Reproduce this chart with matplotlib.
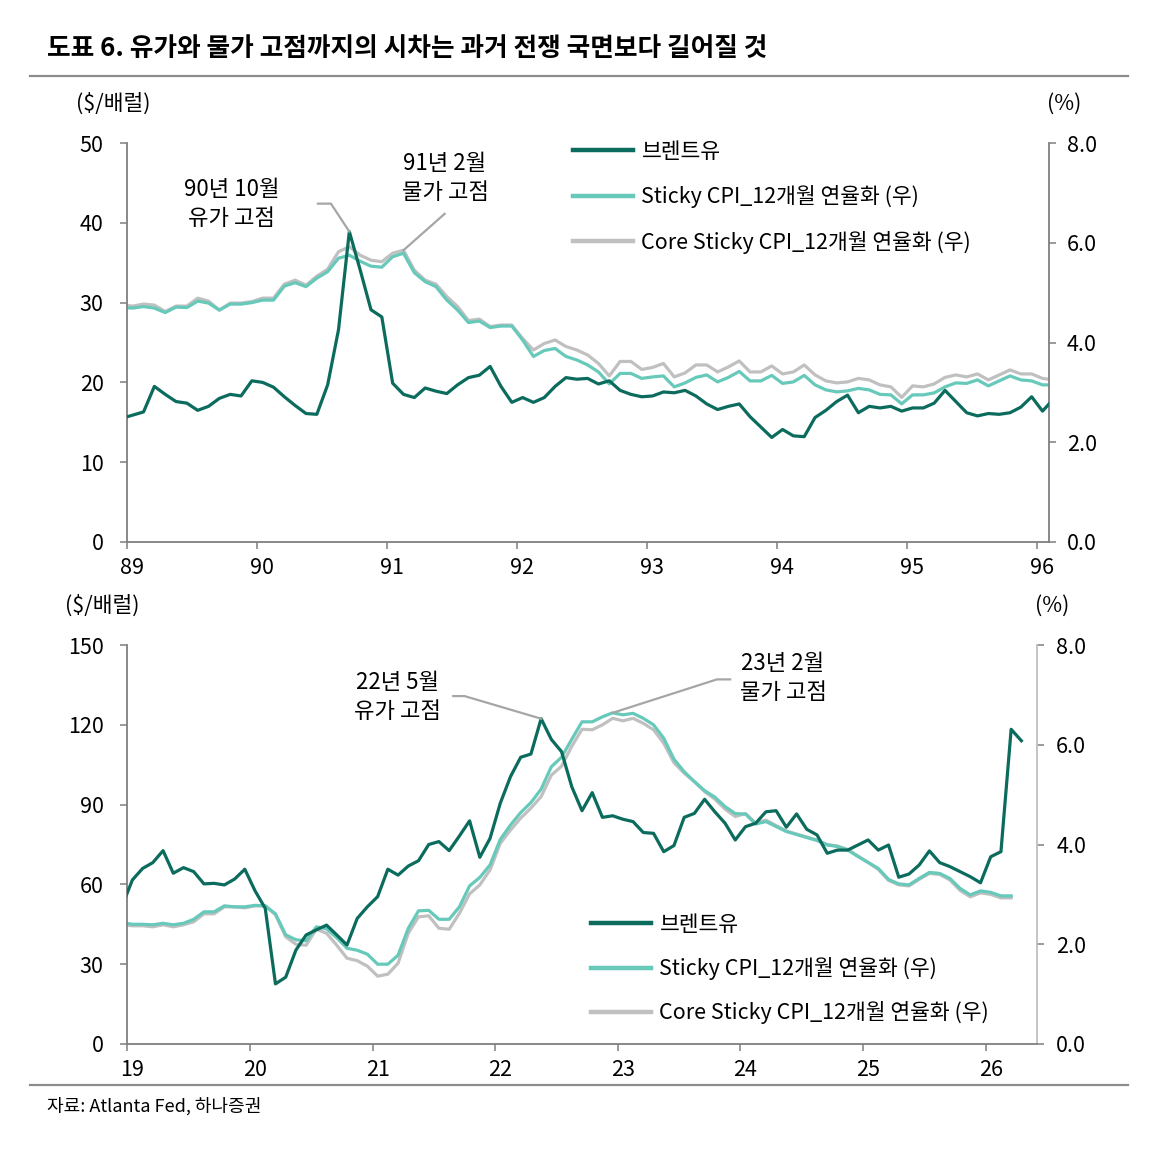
import matplotlib
matplotlib.use('Agg')
import matplotlib.pyplot as plt
import matplotlib.transforms as mtransforms
import numpy as np
import pandas as pd

plt.rcParams['font.family'] = ['Noto Sans CJK KR', 'DejaVu Sans']

# 1989~1996: 월말 기준, 1988-12 ~ 1996-02
months_9x = pd.period_range('1988-12', '1996-02', freq='M')
brent_9x = [15.5, 15.9, 16.3, 19.5, 18.5, 17.6, 17.4, 16.5, 17.0, 18.0, 18.5, 18.3, 20.2,
            20.0, 19.4, 18.2, 17.1, 16.1, 16.0, 19.7, 26.6, 38.9, 34.1, 29.1, 28.2,
            19.9, 18.5, 18.1, 19.3, 18.9, 18.6, 19.7, 20.6, 20.9, 22.0, 19.5, 17.5,
            18.1, 17.5, 18.1, 19.5, 20.6, 20.4, 20.5, 19.8, 20.2, 19.0, 18.5, 18.2,
            18.3, 18.8, 18.7, 19.0, 18.3, 17.3, 16.6, 17.0, 17.3, 15.7, 14.4, 13.1,
            14.1, 13.3, 13.2, 15.6, 16.5, 17.6, 18.4, 16.2, 17.0, 16.8, 17.0, 16.4,
            16.8, 16.8, 17.4, 19.0, 17.6, 16.2, 15.8, 16.1, 16.0, 16.2, 16.9, 18.2,
            16.4, 17.9]
sticky_9x = [4.70, 4.69, 4.72, 4.69, 4.60, 4.71, 4.70, 4.83, 4.79, 4.65, 4.77, 4.77, 4.80,
             4.85, 4.85, 5.13, 5.20, 5.12, 5.29, 5.42, 5.69, 5.75, 5.63, 5.53, 5.51,
             5.72, 5.79, 5.40, 5.22, 5.12, 4.85, 4.65, 4.40, 4.43, 4.30, 4.33, 4.33,
             4.05, 3.72, 3.84, 3.88, 3.72, 3.65, 3.55, 3.41, 3.17, 3.38, 3.38, 3.28,
             3.31, 3.33, 3.11, 3.19, 3.30, 3.35, 3.21, 3.30, 3.42, 3.23, 3.23, 3.34,
             3.18, 3.21, 3.34, 3.15, 3.05, 3.01, 3.03, 3.08, 3.05, 2.96, 2.95, 2.77,
             2.95, 2.95, 2.99, 3.11, 3.19, 3.18, 3.25, 3.13, 3.23, 3.33, 3.25, 3.23,
             3.15, 3.15]
core_9x = [4.75, 4.73, 4.77, 4.75, 4.62, 4.73, 4.73, 4.89, 4.83, 4.65, 4.79, 4.79, 4.82,
           4.89, 4.89, 5.17, 5.25, 5.15, 5.33, 5.47, 5.82, 5.92, 5.75, 5.65, 5.62,
           5.79, 5.85, 5.45, 5.25, 5.17, 4.92, 4.72, 4.44, 4.47, 4.32, 4.35, 4.35,
           4.08, 3.85, 3.98, 4.05, 3.92, 3.85, 3.75, 3.58, 3.33, 3.62, 3.62, 3.46,
           3.50, 3.58, 3.31, 3.39, 3.55, 3.55, 3.41, 3.51, 3.63, 3.41, 3.41, 3.53,
           3.37, 3.41, 3.55, 3.35, 3.23, 3.19, 3.21, 3.28, 3.25, 3.15, 3.11, 2.90,
           3.13, 3.11, 3.17, 3.30, 3.35, 3.31, 3.37, 3.25, 3.35, 3.45, 3.37, 3.37,
           3.28, 3.25]
years_9x = ['89', '90', '91', '92', '93', '94', '95', '96']

# 2019~2026: 2018-12 ~ 2026-04 (CPI는 2026-03까지)
months_2x = pd.period_range('2018-12', '2026-04', freq='M')
brent_2x = [52.0, 61.7, 66.0, 68.2, 72.7, 64.2, 66.3, 64.8, 60.2, 60.4, 59.8, 62.0, 65.7,
            57.6, 51.0, 22.6, 25.1, 35.3, 41.0, 42.9, 44.7, 41.0, 37.2, 47.2, 51.6,
            55.4, 65.7, 63.5, 66.9, 68.9, 75.0, 76.1, 72.7, 78.2, 83.9, 70.2, 77.3,
            90.5, 100.5, 107.8, 109.0, 122.3, 114.5, 109.9, 96.7, 87.7, 94.5, 85.2, 85.8,
            84.5, 83.6, 79.5, 79.2, 72.3, 74.6, 85.2, 86.7, 92.0, 87.3, 83.0, 76.7,
            81.7, 83.0, 87.3, 87.7, 81.5, 86.5, 80.7, 78.6, 71.7, 72.9, 72.9, 74.8,
            76.7, 72.9, 74.8, 62.7, 63.9, 67.3, 72.6, 68.2, 66.7, 64.8, 62.9, 60.6,
            70.4, 72.3, 118.3, 114.0]
sticky_2x = [2.43, 2.40, 2.40, 2.39, 2.42, 2.39, 2.42, 2.50, 2.65, 2.65, 2.77, 2.75, 2.75,
             2.78, 2.77, 2.61, 2.19, 2.09, 2.07, 2.35, 2.31, 2.13, 1.92, 1.88, 1.80,
             1.60, 1.60, 1.78, 2.32, 2.67, 2.68, 2.50, 2.50, 2.75, 3.17, 3.34, 3.59,
             4.10, 4.39, 4.64, 4.84, 5.11, 5.56, 5.75, 6.11, 6.46, 6.46, 6.56, 6.64,
             6.60, 6.63, 6.53, 6.40, 6.13, 5.71, 5.46, 5.26, 5.08, 4.95, 4.76, 4.62,
             4.61, 4.41, 4.46, 4.36, 4.26, 4.20, 4.14, 4.08, 3.99, 3.96, 3.89, 3.76,
             3.64, 3.52, 3.30, 3.21, 3.19, 3.32, 3.44, 3.42, 3.32, 3.12, 2.99, 3.07,
             3.04, 2.97, 2.97]
core_2x = [2.39, 2.37, 2.37, 2.35, 2.39, 2.35, 2.39, 2.45, 2.61, 2.61, 2.75, 2.75, 2.73,
           2.77, 2.77, 2.59, 2.15, 2.00, 1.98, 2.30, 2.22, 1.98, 1.72, 1.67, 1.56,
           1.36, 1.40, 1.62, 2.22, 2.55, 2.57, 2.32, 2.30, 2.62, 3.01, 3.19, 3.49,
           4.02, 4.29, 4.53, 4.73, 4.96, 5.39, 5.57, 5.97, 6.31, 6.30, 6.40, 6.53,
           6.48, 6.53, 6.43, 6.30, 6.03, 5.64, 5.43, 5.26, 5.06, 4.91, 4.71, 4.56,
           4.62, 4.43, 4.49, 4.38, 4.27, 4.21, 4.15, 4.09, 4.00, 3.97, 3.90, 3.77,
           3.64, 3.50, 3.28, 3.19, 3.17, 3.30, 3.42, 3.40, 3.29, 3.08, 2.95, 3.03,
           3.00, 2.93, 2.93]
years_2x = ['19', '20', '21', '22', '23', '24', '25', '26']

DARK = '#0b6b5d'
TEAL = '#66c9ba'
GRAY = '#c0c0c0'
SPINE = '#7f7f7f'
LEADER = '#a6a6a6'
FS = 15.5
FS_NOTE = 16

labels = ['브렌트유', 'Sticky CPI_12개월 연율화 (우)', 'Core Sticky CPI_12개월 연율화 (우)']


def month_pos(months, base_year):
    return np.array([(m.year - base_year) * 12 + m.month - 1 + 0.5 for m in months])


def px(x, y):
    return x / 1153, 1 - y / 1155


def draw_panel(fig, rect_px, months, base_year, brent, sticky, core, years,
               xmax, ymax, ystep, right_color, rpad):
    l, t, r, b = rect_px
    ax = fig.add_axes([l / 1153, 1 - b / 1155, (r - l) / 1153, (b - t) / 1155])
    ax2 = ax.twinx()
    x = month_pos(months, base_year)
    ax.plot(x[:len(brent)], brent, color=DARK, lw=2.3, zorder=3)
    ax2.plot(x[:len(sticky)], sticky, color=TEAL, lw=2.3, zorder=2)
    ax2.plot(x[:len(core)], core, color=GRAY, lw=2.3, zorder=1)
    ax.set_zorder(ax2.get_zorder() + 1)
    ax.patch.set_visible(False)

    ax.set_xlim(0, xmax)
    ax.set_ylim(0, ymax)
    ax2.set_ylim(0, 8)
    ax.set_yticks(np.arange(0, ymax + 1, ystep))
    ax2.set_yticks([0, 2, 4, 6, 8])
    ax2.set_yticklabels(['{:.1f}'.format(v) for v in [0, 2, 4, 6, 8]])
    ax.set_xticks([12 * k for k in range(len(years))])
    ax.set_xticklabels(years)

    for a in (ax, ax2):
        for s in a.spines.values():
            s.set_visible(False)
    ax.spines['left'].set_visible(True)
    ax.spines['bottom'].set_visible(True)
    ax2.spines['right'].set_visible(True)
    ax.spines['left'].set_color(SPINE)
    ax.spines['bottom'].set_color(SPINE)
    ax2.spines['right'].set_color(right_color)
    for s in (ax.spines['left'], ax.spines['bottom'], ax2.spines['right']):
        s.set_linewidth(1.3)

    ax.tick_params(axis='y', length=5, width=1.1, color=SPINE, labelsize=FS, pad=12)
    ax.tick_params(axis='x', length=5, width=1.1, color=SPINE, labelsize=FS, pad=5.5)
    ax2.tick_params(axis='y', length=5, width=1.1, color=SPINE, labelsize=FS, pad=rpad)
    offset = mtransforms.ScaledTranslation(5 / 100, 0, fig.dpi_scale_trans)
    for lab in ax.get_xticklabels():
        lab.set_transform(lab.get_transform() + offset)
    return ax, ax2, x


fig = plt.figure(figsize=(11.53, 11.55), dpi=100)

# 제목, 구분선, 출처
fig.text(*px(47, 48), '도표 6. 유가와 물가 고점까지의 시차는 과거 전쟁 국면보다 길어질 것',
         fontsize=18.5, fontweight='bold', va='center', ha='left')
fig.add_artist(plt.Line2D([30 / 1153, 1128 / 1153], [1 - 76 / 1155] * 2, color='#8c8c8c', lw=1.6))
fig.add_artist(plt.Line2D([30 / 1153, 1128 / 1153], [1 - 1085 / 1155] * 2, color='#8c8c8c', lw=1.6))
fig.text(*px(47, 1106), '자료: Atlanta Fed, 하나증권', fontsize=13, va='center', ha='left')

# 상단: 1989~1996
ax, ax2, x9 = draw_panel(fig, (127.3, 143, 1049, 542), months_9x, 1989, brent_9x, sticky_9x,
                         core_9x, years_9x, 85.1, 50, 10, SPINE, 8)
fig.text(*px(113, 104), r'(\$/배럴)', fontsize=FS, ha='center', va='center')
fig.text(*px(1064, 104), '(%)', fontsize=FS, ha='center', va='center')

i_oil = int(np.argmax(brent_9x))
i_cpi = i_oil + 1 + int(np.argmax(core_9x[i_oil + 1:]))
ax.plot([17.6, 18.8, x9[i_oil]], [42.4, 42.4, brent_9x[i_oil]], color=LEADER, lw=1.6,
        zorder=4, clip_on=False)
ax2.plot([x9[i_cpi], 29.3], [core_9x[i_cpi], 6.58], color=LEADER, lw=1.6, clip_on=False)
fig.text(*px(232, 204), '90년 10월\n유가 고점', fontsize=FS_NOTE, ha='center', va='center',
         linespacing=1.3)
fig.text(*px(445, 178), '91년 2월\n물가 고점', fontsize=FS_NOTE, ha='center', va='center',
         linespacing=1.3)

handles = [plt.Line2D([], [], color=c, lw=3.2) for c in (DARK, TEAL, GRAY)]
fig.legend(handles, labels, loc='upper left', bbox_to_anchor=px(573, 140.5), frameon=False,
           fontsize=FS, handlelength=2.8, handletextpad=0.38, labelspacing=1.05,
           borderpad=0, borderaxespad=0)

# 하단: 2019~2026
bx, bx2, x2 = draw_panel(fig, (127.3, 645, 1036.7, 1044), months_2x, 2019, brent_2x, sticky_2x,
                         core_2x, years_2x, 89.0, 150, 30, '#bfbfbf', 9)
fig.text(*px(102, 606), r'(\$/배럴)', fontsize=FS, ha='center', va='center')
fig.text(*px(1052, 606), '(%)', fontsize=FS, ha='center', va='center')

j_oil = int(np.argmax(brent_2x[:60]))
j_cpi = int(np.argmax(sticky_2x))
bx.plot([31.9, 33.0, x2[j_oil]], [130.8, 130.8, brent_2x[j_oil]], color=LEADER, lw=1.6,
        zorder=4, clip_on=False)
bx2.plot([x2[j_cpi], 57.7, 59.0], [sticky_2x[j_cpi], 7.31, 7.31], color=LEADER, lw=1.6,
         clip_on=False)
fig.text(*px(398, 697), '22년 5월\n유가 고점', fontsize=FS_NOTE, ha='center', va='center',
         linespacing=1.3)
fig.text(*px(783, 678), '23년 2월\n물가 고점', fontsize=FS_NOTE, ha='center', va='center',
         linespacing=1.3)

fig.legend(handles, labels, loc='upper left', bbox_to_anchor=px(591, 914), frameon=False,
           fontsize=FS, handlelength=2.8, handletextpad=0.38, labelspacing=0.98,
           borderpad=0, borderaxespad=0)

fig.savefig('out.png', dpi=100)
